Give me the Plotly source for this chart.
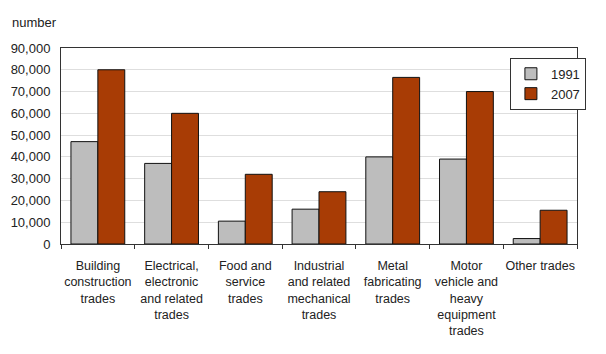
import plotly.graph_objects as go

categories = [
    "Building<br>construction<br>trades",
    "Electrical,<br>electronic<br>and related<br>trades",
    "Food and<br>service<br>trades",
    "Industrial<br>and related<br>mechanical<br>trades",
    "Metal<br>fabricating<br>trades",
    "Motor<br>vehicle and<br>heavy<br>equipment<br>trades",
    "Other trades",
]
values_1991 = [47000, 37000, 10500, 16000, 40000, 39000, 2500]
values_2007 = [80000, 60000, 32000, 24000, 76500, 70000, 15500]
tick_vals = [0, 10000, 20000, 30000, 40000, 50000, 60000, 70000, 80000, 90000]
tick_text = ["0", "10,000", "20,000", "30,000", "40,000", "50,000", "60,000", "70,000", "80,000", "90,000"]

fig = go.Figure()
fig.add_trace(go.Bar(name="1991", x=categories, y=values_1991,
                     marker=dict(color="#bdbdbd", line=dict(color="#111", width=1))))
fig.add_trace(go.Bar(name="2007", x=categories, y=values_2007,
                     marker=dict(color="#a83c05", line=dict(color="#111", width=1))))

fig.update_layout(
    width=606, height=354,
    margin=dict(l=61, r=29, t=48, b=110),
    paper_bgcolor="white", plot_bgcolor="white",
    font=dict(family="Liberation Sans, Arial, sans-serif", size=12, color="#222"),
    barmode="group", bargap=0.27, bargroupgap=0,
    showlegend=True,
    legend=dict(x=0.87, y=0.95, xanchor="left", yanchor="top",
                bordercolor="#333", borderwidth=1, bgcolor="white",
                font=dict(size=13), tracegroupgap=4),
    annotations=[dict(text="number", xref="paper", yref="paper",
                      x=-51/516, y=1 + (48-23)/196,
                      showarrow=False, xanchor="left", yanchor="middle",
                      font=dict(size=13))],
)
fig.update_xaxes(showline=True, linecolor="#333", linewidth=1, mirror=True,
                 ticks="outside", tickson="boundaries", ticklen=4, tickcolor="#333",
                 tickfont=dict(size=12.5), tickangle=0, ticklabelstandoff=10)
fig.update_yaxes(range=[0, 90000], tickvals=tick_vals, ticktext=tick_text,
                 showgrid=True, gridcolor="#dedede", gridwidth=1,
                 showline=True, linecolor="#333", linewidth=1, mirror=True,
                 tickfont=dict(size=13), ticks="", zeroline=False,
                 ticklabelstandoff=7)

fig.write_html("out.html")
